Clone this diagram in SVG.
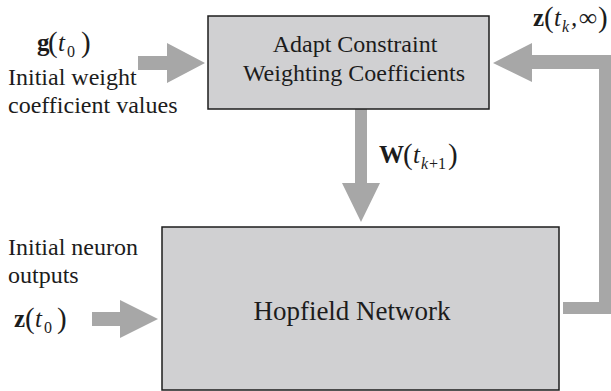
<svg xmlns="http://www.w3.org/2000/svg" width="611" height="391" viewBox="0 0 611 391">
<style>
.box{fill:#d0d0d2;stroke:#1c1c1c;stroke-width:1.5}
.arr{fill:#a7a7a7;stroke:none}
.t{font-family:'Liberation Serif','DejaVu Serif',serif;fill:#1c1c1c}
.lbl{font-size:24px}
.mb{font-size:25px;font-weight:bold}
.mi{font-size:25px;font-style:italic}
.par{font-size:29px}
.sub{font-size:16px}
.subi{font-size:16px;font-style:italic}
</style>
<rect width="611" height="391" fill="#ffffff"/>
<g id="connectors">
<polygon class="arr" points="138,56 167,56 167,43 205,63 167,83 167,70 138,70"/>
<polygon class="arr" points="92,312 120,312 120,300 158,319 120,338 120,326 92,326"/>
<polygon class="arr" points="355,109 367,109 367,183 380,183 361,222 342,183 355,183"/>
<polygon class="arr" points="563,302 599,302 599,69 532,69 532,82 493,63 532,43 532,55 611,55 611,314 563,314"/>
</g>
<g class="t" font-family="Liberation Serif, DejaVu Serif, serif">
<g id="adapt">
<rect class="box" x="208" y="16" width="281" height="93"/>
<text class="lbl" x="355" y="52" text-anchor="middle">Adapt Constraint</text>
<text class="lbl" x="354" y="81" text-anchor="middle">Weighting Coefficients</text>
</g>
<g id="hopfield">
<rect class="box" x="162" y="227" width="397" height="163"/>
<text x="352" y="320" text-anchor="middle" font-size="27">Hopfield Network</text>
</g>
<g id="g-input">
<text class="mb" x="37" y="51">g</text>
<text class="par" x="48" y="52">(</text>
<text class="mi" x="58" y="51">t</text>
<text class="sub" x="67" y="57">0</text>
<text class="par" x="81" y="52">)</text>
<text class="lbl" x="8" y="85">Initial weight</text>
<text class="lbl" x="8" y="113">coefficient values</text>
</g>
<g id="z-input">
<text class="lbl" x="8" y="255">Initial neuron</text>
<text class="lbl" x="8" y="283">outputs</text>
<text class="mb" x="14" y="327">z</text>
<text class="par" x="25" y="328">(</text>
<text class="mi" x="35" y="327">t</text>
<text class="sub" x="44" y="333">0</text>
<text class="par" x="57" y="328">)</text>
</g>
<g id="w-label">
<text class="mb" x="379" y="163">W</text>
<text class="par" x="403" y="164">(</text>
<text class="mi" x="413" y="163">t</text>
<text class="subi" x="421" y="169">k</text>
<text class="sub" x="429" y="169">+1</text>
<text class="par" x="448" y="164">)</text>
</g>
<g id="z-feedback">
<text class="mb" x="533" y="26">z</text>
<text class="par" x="544" y="27">(</text>
<text class="mi" x="554" y="26">t</text>
<text class="subi" x="562" y="32">k</text>
<text class="mi" x="571" y="26">,</text>
<text class="mi" x="579" y="26">∞</text>
<text class="par" x="598" y="27">)</text>
</g>
</g>
</svg>
